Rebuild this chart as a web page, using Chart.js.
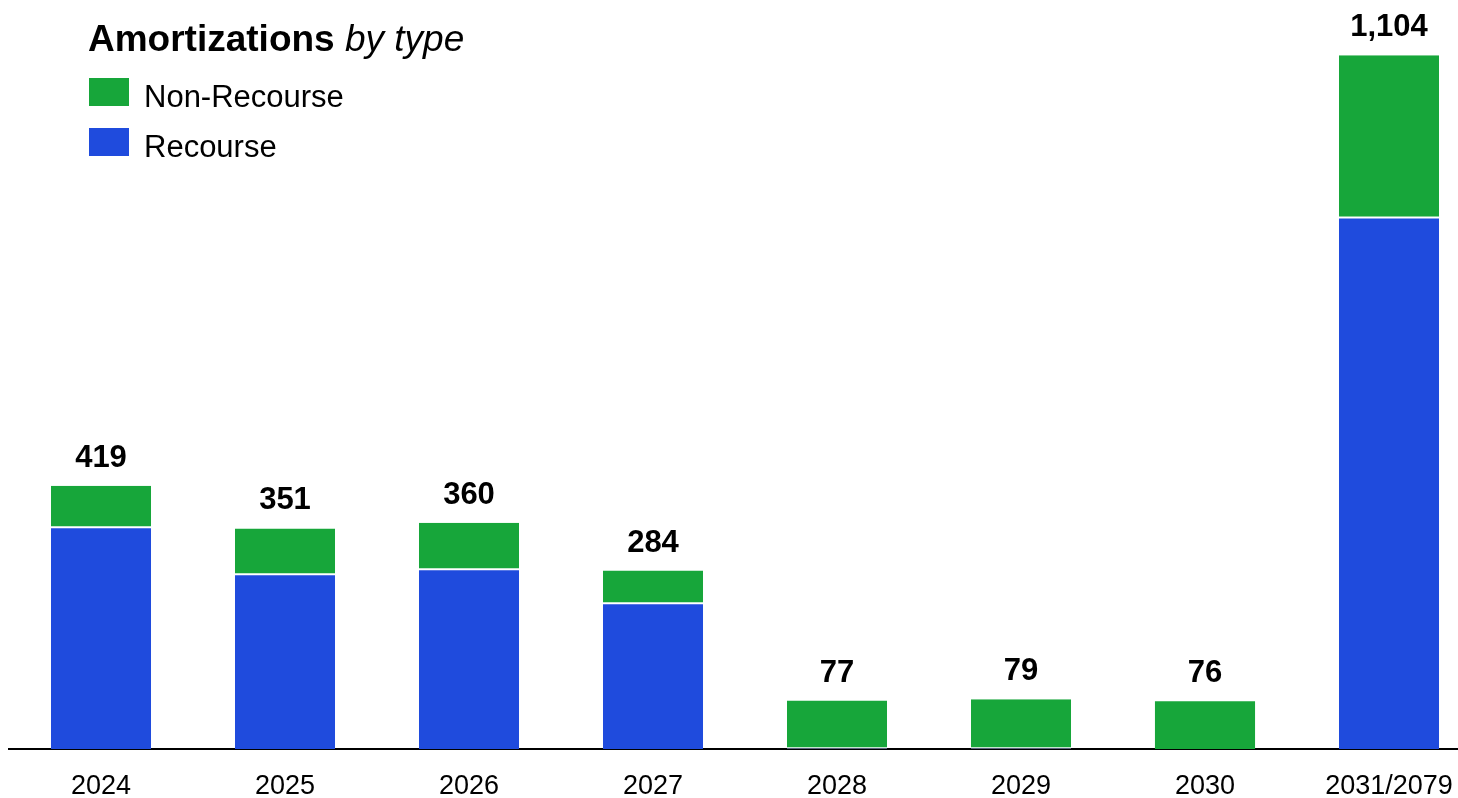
<!DOCTYPE html>
<html>
<head>
<meta charset="utf-8">
<script src="https://cdn.jsdelivr.net/npm/chart.js@4"></script>
<style>
  html, body { margin:0; padding:0; background:#fff; }
  #wrap { position:relative; width:1458px; height:798px; font-family:"Liberation Sans", Arial, sans-serif; }
  #title { position:absolute; left:88px; top:21px; font-size:37px; line-height:36px; color:#000; white-space:nowrap; }
  #title b { font-weight:bold; }
  #title i { font-weight:normal; }
  .lg-box { position:absolute; left:89px; width:40px; height:28px; }
  .lg-txt { position:absolute; left:144px; font-size:31px; line-height:30px; color:#000; white-space:nowrap; }
</style>
</head>
<body>
<div id="wrap">
  <canvas id="amort"></canvas>
  <div id="title"><b>Amortizations</b> <i>by type</i></div>
  <div id="legend"></div>
</div>
<script>
const years = ["2024", "2025", "2026", "2027", "2028", "2029", "2030", "2031/2079"];
const recourse    = [353, 278, 286, 232, 1, 1, 0, 846];
const nonRecourse = [66, 73, 74, 52, 76, 78, 76, 258];

const GREEN = "#17a63a";
const BLUE = "#1f4bdd";
const FONT = "'Liberation Sans', Arial, sans-serif";

// totals above each stack
const totalsPlugin = {
  id: "totals",
  afterDatasetsDraw(chart) {
    const ctx = chart.ctx;
    const metas = chart.data.datasets.map((_, i) => chart.getDatasetMeta(i));
    ctx.save();
    ctx.font = "bold 31px " + FONT;
    ctx.fillStyle = "#000";
    ctx.textAlign = "center";
    ctx.textBaseline = "alphabetic";
    years.forEach((_, i) => {
      const total = recourse[i] + nonRecourse[i];
      const top = Math.min(...metas.map(m => m.data[i].y));
      ctx.fillText(total.toLocaleString("en-US"), metas[0].data[i].x, top - 19);
    });
    ctx.restore();
  }
};

const chart = new Chart(document.getElementById("amort"), {
  type: "bar",
  data: {
    datasets: [
      {
        label: "Recourse",
        data: recourse.map((v, i) => ({ x: i, y: v })),
        backgroundColor: BLUE,
        borderColor: "#fff",
        borderWidth: { top: 1, bottom: 0, left: 0, right: 0 },
        borderSkipped: false
      },
      {
        label: "Non-Recourse",
        data: nonRecourse.map((v, i) => ({ x: i, y: v })),
        backgroundColor: GREEN,
        borderColor: "#fff",
        // white separator only where a recourse segment sits underneath
        borderWidth: (c) => ({ top: 0, bottom: recourse[c.dataIndex] > 0 ? 1 : 0, left: 0, right: 0 }),
        borderSkipped: false
      }
    ]
  },
  options: {
    responsive: true,
    maintainAspectRatio: false,
    animation: false,
    categoryPercentage: 1,
    barPercentage: 0.544,
    layout: { padding: { left: 9, right: 0, top: 0, bottom: 0 } },
    plugins: {
      legend: { display: false },
      title: { display: false },
      tooltip: { enabled: false }
    },
    scales: {
      x: {
        type: "linear",
        stacked: true,
        offset: false,
        min: -0.5,
        max: 7.375,
        afterBuildTicks: (s) => { s.ticks = years.map((_, i) => ({ value: i })); },
        afterFit: (s) => { s.paddingLeft = 0; s.paddingRight = 0; s.height = 49; },
        grid: { display: false, drawTicks: false },
        border: { display: true, color: "#000", width: 2 },
        ticks: {
          color: "#000",
          font: { family: FONT, size: 27 },
          padding: 21,
          maxRotation: 0,
          autoSkip: false,
          callback: (v) => years[v]
        }
      },
      y: {
        stacked: true,
        display: false,
        min: 0,
        max: 1192
      }
    }
  },
  plugins: [totalsPlugin]
});

// legend (Non-Recourse listed first)
const lg = document.getElementById("legend");
chart.data.datasets.slice().reverse().forEach((ds, k) => {
  const box = document.createElement("div");
  box.className = "lg-box";
  box.style.top = (78 + k * 50) + "px";
  box.style.background = ds.backgroundColor;
  const txt = document.createElement("div");
  txt.className = "lg-txt";
  txt.style.top = (82 + k * 50) + "px";
  txt.textContent = ds.label;
  lg.appendChild(box);
  lg.appendChild(txt);
});
</script>
</body>
</html>
